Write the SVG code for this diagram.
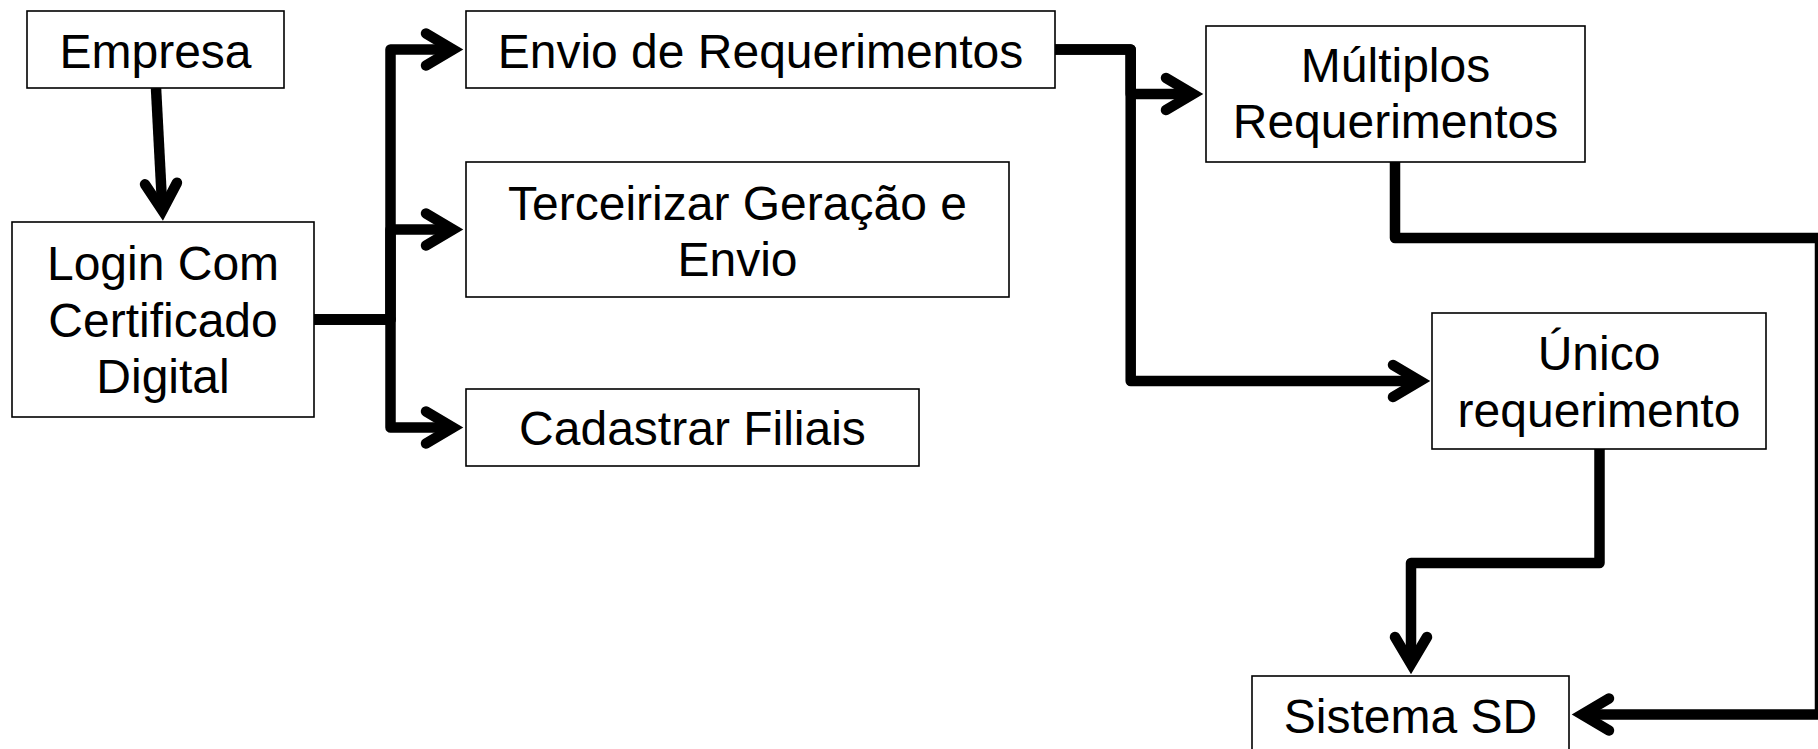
<svg xmlns="http://www.w3.org/2000/svg" width="1818" height="749" viewBox="0 0 1818 749">
<style>
.box{fill:#fff;stroke:#000;stroke-width:1.6}
.lbl{font-family:"Liberation Sans",Arial,sans-serif;font-size:48px;fill:#000;text-anchor:middle}
.conn{fill:none;stroke:#000;stroke-width:10.5;stroke-linejoin:round;stroke-linecap:butt;marker-end:url(#ah)}
</style>
<defs>
<marker id="ah" markerUnits="userSpaceOnUse" orient="auto" markerWidth="60" markerHeight="60" refX="0" refY="0" style="overflow:visible">
<path d="M-27,-16 L0,0 L-27,16" fill="none" stroke="#000" stroke-width="10.5" stroke-linecap="round" stroke-linejoin="miter"/>
</marker>
</defs>
<rect width="1818" height="749" fill="#fff"/>
<g id="connectors">
<path class="conn" d="M156,88 L162.4,210.5"/>
<path class="conn" d="M314,319.5 H390.5 V49.5 H453"/>
<path class="conn" d="M314,319.5 H390.5 V229.5 H453"/>
<path class="conn" d="M314,319.5 H390.5 V427.5 H453"/>
<path class="conn" d="M1055,49.5 H1130.7 V94 H1193"/>
<path class="conn" d="M1055,49.5 H1130.7 V381 H1420"/>
<path class="conn" d="M1395,162 V238 H1820 V714.5 H1582"/>
<path class="conn" d="M1599.5,449 V563 H1411 V664"/>
</g>
<g id="empresa">
<rect class="box" x="27" y="11" width="257" height="77"/>
<text class="lbl" x="155.5" y="68">Empresa</text>
</g>
<g id="login">
<rect class="box" x="12" y="222" width="302" height="195"/>
<text class="lbl" x="163" y="280">Login Com</text>
<text class="lbl" x="163" y="337">Certificado</text>
<text class="lbl" x="163" y="393">Digital</text>
</g>
<g id="envio">
<rect class="box" x="466" y="11" width="589" height="77"/>
<text class="lbl" x="760.5" y="68">Envio de Requerimentos</text>
</g>
<g id="terceirizar">
<rect class="box" x="466" y="162" width="543" height="135"/>
<text class="lbl" x="737.5" y="220">Terceirizar Geração e</text>
<text class="lbl" x="737.5" y="276">Envio</text>
</g>
<g id="cadastrar">
<rect class="box" x="466" y="389" width="453" height="77"/>
<text class="lbl" x="692.5" y="445">Cadastrar Filiais</text>
</g>
<g id="multiplos">
<rect class="box" x="1206" y="26" width="379" height="136"/>
<text class="lbl" x="1395.5" y="82">Múltiplos</text>
<text class="lbl" x="1395.5" y="138">Requerimentos</text>
</g>
<g id="unico">
<rect class="box" x="1432" y="313" width="334" height="136"/>
<text class="lbl" x="1599" y="370">Único</text>
<text class="lbl" x="1599" y="427">requerimento</text>
</g>
<g id="sistema">
<rect class="box" x="1252" y="676" width="317" height="100"/>
<text class="lbl" x="1410.5" y="733">Sistema SD</text>
</g>
</svg>
